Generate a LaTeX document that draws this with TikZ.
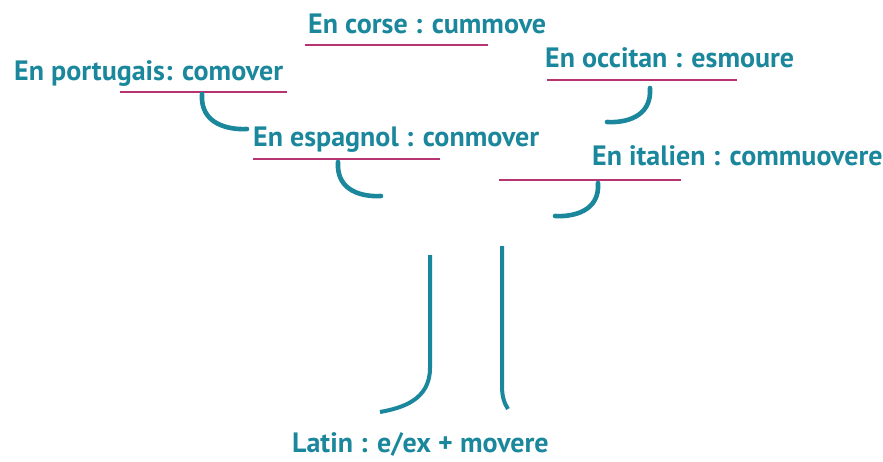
\documentclass[tikz,border=0pt]{standalone}
\usepackage{fontspec}
\setmainfont{PT Sans}
\definecolor{teal}{RGB}{27,135,156}
\definecolor{rouge}{RGB}{181,52,113}
\tikzset{
    mot/.style={anchor=base west, inner sep=0pt, text=teal, font=\fontsize{28}{32}\selectfont\bfseries},
    trait/.style={rouge, line width=2.6pt},
    crochet/.style={teal, line width=4.6pt, line cap=round},
    tronc/.style={teal, line width=4pt},
}
\begin{document}
\begin{tikzpicture}[x=1pt, y=-1pt]
    \useasboundingbox (0, 0) rectangle (883, 461);

    % les langues
    \node [mot] (corse)     at (308, 33)  {En corse : cummove};
    \node [mot] (portugais) at (14, 80)   {En portugais: comover};
    \node [mot] (occitan)   at (545, 67)  {En occitan : esmoure};
    \node [mot] (espagnol)  at (253, 146) {En espagnol : conmover};
    \node [mot] (italien)   at (592, 165) {En italien : commuovere};
    \node [mot] (latin)     at (292, 452) {Latin : e/ex + movere};

    % soulignements
    \draw [trait] (305, 45)  -- (488, 45);
    \draw [trait] (120, 92)  -- (287, 92);
    \draw [trait] (547, 80)  -- (737, 80);
    \draw [trait] (253, 159) -- (440, 159);
    \draw [trait] (499, 180) -- (681, 180);

    % branches
    \draw [crochet] (202, 94)  .. controls (200, 124) and (228, 130) .. (247, 129);
    \draw [crochet] (338, 162) .. controls (336, 192) and (364, 197) .. (381, 196);
    \draw [crochet] (650, 88)  .. controls (652, 118) and (624, 123) .. (607, 122);
    \draw [crochet] (598, 183) .. controls (600, 212) and (572, 217) .. (555, 216);

    % tronc
    \draw [tronc] (430, 255) -- (430, 368) .. controls (430, 400) and (402, 408) .. (380, 412);
    \draw [tronc] (502, 246) -- (502, 386) .. controls (502, 396) and (504, 403) .. (508, 409);
\end{tikzpicture}
\end{document}
